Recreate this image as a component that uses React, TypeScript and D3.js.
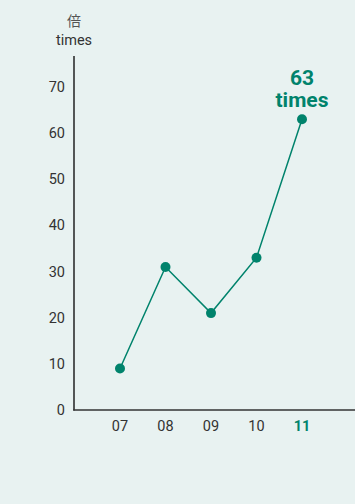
import React from "react";
import * as d3 from "d3";

const years = ["07", "08", "09", "10", "11"];
const values = [9, 31, 21, 33, 63];
const yTicks = [0, 10, 20, 30, 40, 50, 60, 70];

const W = 355;
const H = 504;
const TEAL = "#00836c";
const BG = "#e8f2f1";
const FONT = "Roboto, 'Noto Sans', 'Noto Sans CJK JP', sans-serif";

export default function App() {
  const x = d3.scalePoint<string>().domain(years).range([120, 302]);
  const y = d3.scaleLinear().domain([0, 70]).range([410, 87]);
  const line = d3
    .line<number>()
    .x((_, i) => x(years[i]) as number)
    .y((d) => y(d));
  const last = values.length - 1;

  return (
    <svg
      width={W}
      height={H}
      style={{ position: "fixed", left: 0, top: 0, background: BG }}
      fontFamily={FONT}
    >
      <rect width={W} height={H} fill={BG} />
      <text x={74} y={26} textAnchor="middle" fontSize={14} fill="#555">倍</text>
      <text x={74} y={45} textAnchor="middle" fontSize={14.5} fill="#333">times</text>

      {yTicks.map((t) => (
        <text key={t} x={65} y={y(t) + 5} textAnchor="end" fontSize={14.5} fill="#333">
          {t}
        </text>
      ))}

      <line x1={74} x2={74} y1={56} y2={410.5} stroke="#222" strokeWidth={1.5} />
      <line x1={73.25} x2={W} y1={410} y2={410} stroke="#333" strokeWidth={1.5} />

      {years.map((yr, i) => (
        <text
          key={yr}
          x={x(yr)}
          y={431}
          textAnchor="middle"
          fontSize={14.5}
          fontWeight={i === last ? 700 : 400}
          fill={i === last ? TEAL : "#333"}
        >
          {yr}
        </text>
      ))}

      <path d={line(values) || ""} fill="none" stroke={TEAL} strokeWidth={1.5} />
      {values.map((v, i) => (
        <circle key={i} cx={x(years[i])} cy={y(v)} r={5} fill={TEAL} />
      ))}

      <text x={x(years[last])} y={85} textAnchor="middle" fontSize={21} fontWeight={700} fill={TEAL}>
        {values[last]}
      </text>
      <text x={x(years[last])} y={107} textAnchor="middle" fontSize={21} fontWeight={700} fill={TEAL}>
        times
      </text>
    </svg>
  );
}
